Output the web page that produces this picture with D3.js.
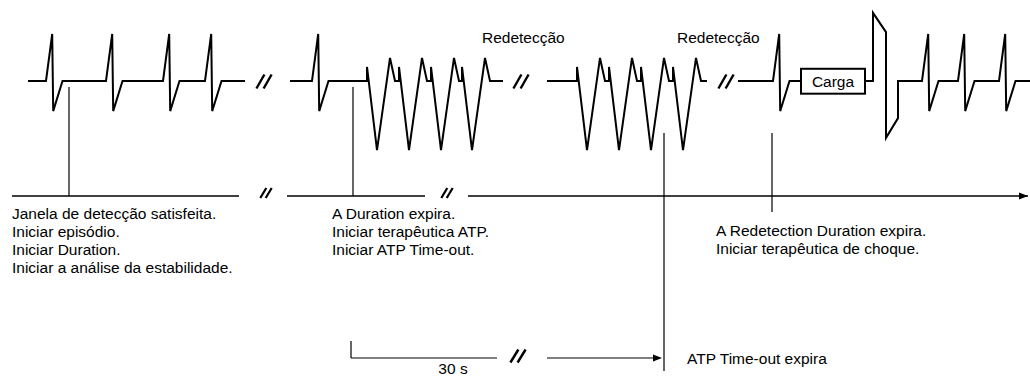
<!DOCTYPE html>
<html><head><meta charset="utf-8">
<script src="https://cdn.jsdelivr.net/npm/d3@7"></script>
<style>
body{margin:0;background:#fff}
svg text{font-family:"Liberation Sans",Arial,Helvetica,sans-serif;font-size:15.5px;fill:#000}
</style>
</head><body><svg id="c" width="1030" height="376"></svg>
<script>
// ---- DATA (time in units of 10 ms-like ticks, amplitude in mV-like units) ----
const normalBeat = [[0,0],[0.62,1],[0.72,-0.64],[1.65,0]];
const vtBeat     = [[0,0],[0,0.3],[1.0,-1.47],[2.3,0.49],[2.8,0],[3.2,0]];
const shockBeat  = [[0,0],[0,1.45],[1.3,1.04],[1.3,-1.21],[2.5,-0.79],[2.5,0]];

const segStarts = [2.8, 29.0, 54.7, 73.8, 86.5];
const segEnds   = [24.5, 50.3, 70.7, 80.1, 103];
const segBeatTypes = [["N","N","N","N"], ["N","V","V","V","V"], ["V","V","V","V"], ["N"], ["S","N","N","N"]];
const segBeatTimes = [[4.6,10.6,16.3,20.5], [31.2,36.7,39.9,43.1,46.2], [57.7,60.9,64.1,67.3], [77.3], [87.3,92.2,95.8,99.9]];

const chargeBox = [80.1, 86.5, 0.26, -0.27];
const chargeLabel = "Carga";
const ecgBreaks = [26.4, 52.1, 72.6];
const redetectTimes = [48.2, 67.7];
const redetectLabel = "Redetecção";

const timelineSegs = [[1.2,23.9],[28.7,42.5],[46.8,102.8]];
const timelineBreaks = [26.6, 44.7];
const eventTimes = [6.9, 35.3, 66.4, 77.2];
const eventLabelTimes = [1.2, 33.2, null, 71.6];
const eventLabels = [
  ["Janela de detecção satisfeita.","Iniciar episódio.","Iniciar Duration.","Iniciar a análise da estabilidade."],
  ["A Duration expira.","Iniciar terapêutica ATP.","Iniciar ATP Time-out."],
  null,
  ["A Redetection Duration expira.","Iniciar terapêutica de choque."]
];

const atpStart = 35.1, atpGapStart = 49.7, atpGapEnd = 54.7, atpEnd = 66.2, atpBreak = 51.8;
const atpScaleLabel = "30 s", atpScaleLabelTime = 45.3;
const atpLabel = "ATP Time-out expira", atpLabelTime = 68.7;

// ---- LAYOUT ----
const svg = d3.select("#c");
const x = d3.scaleLinear().domain([0,103]).range([0,1030]);
const y = d3.scaleLinear().domain([-1.5,1.5]).range([151.5,10.5]);
const timelineY = 196, atpY = 358;
const eventTop = [87, 87, 133, 133];
const eventBottom = [timelineY, timelineY, 371, 212];
const labelBase = [219, 219, 0, 236];

const templates = {N: normalBeat, V: vtBeat, S: shockBeat};
const line = d3.line().x(d=>x(d[0])).y(d=>y(d[1]));

const g = svg.append("g");

// ECG segments
segStarts.forEach((s,i)=>{
  const pts = [[s,0]];
  segBeatTypes[i].forEach((tp,j)=>{
    const t0 = segBeatTimes[i][j];
    templates[tp].forEach(p=>pts.push([t0+p[0], p[1]]));
  });
  pts.push([segEnds[i],0]);
  g.append("path").attr("d", line(pts)).attr("fill","none")
    .attr("stroke","#000").attr("stroke-width",2).attr("stroke-linejoin","miter");
});

// Charge box
g.append("rect").attr("x", x(chargeBox[0])).attr("y", y(chargeBox[2]))
  .attr("width", x(chargeBox[1])-x(chargeBox[0])).attr("height", y(chargeBox[3])-y(chargeBox[2]))
  .attr("fill","#fff").attr("stroke","#000").attr("stroke-width",2);
g.append("text").attr("x", (x(chargeBox[0])+x(chargeBox[1]))/2).attr("y", y(0)+5.5)
  .attr("text-anchor","middle").text(chargeLabel);

// break marks
function brk(cx, cy, h, w, sw){
  [-w*0.45, w*0.45].forEach(o=>{
    g.append("line").attr("x1", cx+o-w/2).attr("y1", cy+h/2)
      .attr("x2", cx+o+w/2).attr("y2", cy-h/2)
      .attr("stroke","#000").attr("stroke-width",sw);
  });
}
ecgBreaks.forEach(t=>brk(x(t), y(0)+0.5, 14, 8, 2.4));
timelineBreaks.forEach(t=>brk(x(t), timelineY-3, 10, 6, 2.2));
brk(x(atpBreak), atpY-2, 13, 8, 2.4);

// Redetection labels
redetectTimes.forEach(t=>g.append("text").attr("x", x(t)).attr("y", 43).text(redetectLabel));

// timeline
timelineSegs.forEach(s=>{
  g.append("line").attr("x1", x(s[0])).attr("x2", x(s[1])).attr("y1", timelineY).attr("y2", timelineY)
   .attr("stroke","#000").attr("stroke-width",1.4);
});
const tEnd = x(timelineSegs[2][1]);
g.append("path").attr("d", `M${tEnd},${timelineY} L${tEnd-9},${timelineY-3.5} L${tEnd-9},${timelineY+3.5} Z`).attr("fill","#000");

// event markers & labels
eventTimes.forEach((t,i)=>{
  g.append("line").attr("x1", x(t)).attr("x2", x(t)).attr("y1", eventTop[i]).attr("y2", eventBottom[i])
    .attr("stroke","#000").attr("stroke-width",1.2);
  if (eventLabels[i]) {
    const tx = g.append("text").attr("x", x(eventLabelTimes[i])).attr("y", labelBase[i]);
    eventLabels[i].forEach((l,k)=>tx.append("tspan").attr("x", x(eventLabelTimes[i])).attr("dy", k===0?0:18).text(l));
  }
});

// ATP time-out bracket
g.append("line").attr("x1", x(atpStart)).attr("x2", x(atpStart)).attr("y1", atpY-17).attr("y2", atpY)
  .attr("stroke","#000").attr("stroke-width",1.2);
g.append("line").attr("x1", x(atpStart)).attr("x2", x(atpGapStart)).attr("y1", atpY).attr("y2", atpY)
  .attr("stroke","#000").attr("stroke-width",1.2);
g.append("line").attr("x1", x(atpGapEnd)).attr("x2", x(atpEnd)-6).attr("y1", atpY).attr("y2", atpY)
  .attr("stroke","#000").attr("stroke-width",1.2);
const aEnd = x(atpEnd);
g.append("path").attr("d", `M${aEnd},${atpY} L${aEnd-9},${atpY-3.5} L${aEnd-9},${atpY+3.5} Z`).attr("fill","#000");
g.append("text").attr("x", x(atpScaleLabelTime)).attr("y", 374).attr("text-anchor","middle").text(atpScaleLabel);
g.append("text").attr("x", x(atpLabelTime)).attr("y", atpY+5.5).text(atpLabel);
</script>
</body></html>
